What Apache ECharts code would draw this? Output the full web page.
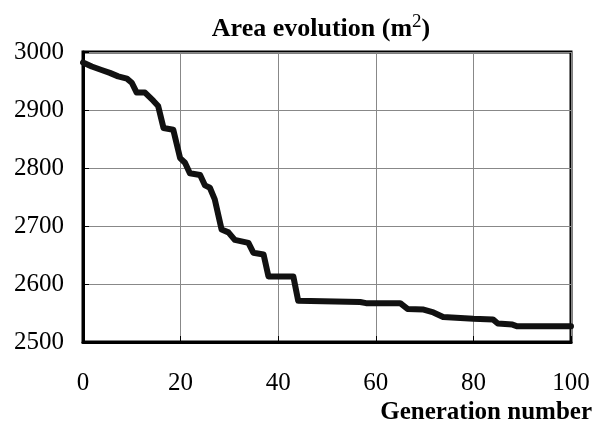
<!DOCTYPE html>
<html>
<head>
<meta charset="utf-8">
<script src="https://cdn.jsdelivr.net/npm/echarts@6/dist/echarts.min.js"></script>
<style>html,body{margin:0;padding:0;background:#fff;}#c{width:603px;height:426px;}</style>
</head>
<body>
<div id="c"></div>
<script>
var generations = [0, 1.8, 3.8, 5.5, 7.2, 9, 10, 11, 12.7, 14.4, 15.4, 16.5, 18.5, 19.9, 20.9, 21.9, 24, 25, 26, 27, 28.4, 29.8, 31.1, 33.9, 34.9, 37, 38, 43.1, 44.1, 56.8, 58, 65, 66.5, 69.8, 71.8, 73.8, 80, 84, 85, 88, 89, 100];
var areas = [2982, 2975, 2969, 2964, 2958, 2954, 2947, 2930, 2930, 2916, 2907, 2869, 2866, 2817, 2809, 2791, 2788, 2770, 2766, 2746, 2694, 2689, 2676, 2671, 2654, 2651, 2613, 2613, 2571, 2569, 2567, 2567, 2557, 2556, 2551, 2543, 2540, 2539, 2532, 2530, 2527, 2527];
var xTicks = [0, 20, 40, 60, 80, 100];
var yTicks = [2500, 2600, 2700, 2800, 2900, 3000];

var points = generations.map(function (g, i) { return [g, areas[i]]; });
var chart = echarts.init(document.getElementById('c'));
var font = '"Liberation Serif", "Times New Roman", serif';
chart.setOption({
  animation: false,
  backgroundColor: '#fff',
  title: {
    text: 'Area evolution (m{sup|2})',
    left: 316, top: 8, textAlign: 'center',
    textStyle: {
      fontFamily: font, fontWeight: 'bold', fontSize: 26, color: '#000',
      rich: { sup: { fontFamily: font, fontWeight: 'normal', fontSize: 19, verticalAlign: 'top', padding: [0, 0, 14, 0], color: '#000' } }
    }
  },
  grid: { left: 83, right: 32, top: 52, bottom: 84, show: true, borderColor: '#000', borderWidth: 3, containLabel: false },
  xAxis: {
    type: 'value', min: xTicks[0], max: xTicks[xTicks.length - 1], interval: 20,
    name: 'Generation number', nameLocation: 'end', nameGap: 21,
    nameTextStyle: { fontFamily: font, fontWeight: 'bold', fontSize: 25, color: '#000', align: 'right', verticalAlign: 'top', padding: [58, 0, 0, 0] },
    axisLine: { show: true, lineStyle: { color: '#000', width: 3 } },
    axisTick: { show: true, inside: true, length: 6, lineStyle: { color: '#000', width: 1 } },
    axisLabel: { fontFamily: font, fontSize: 25, color: '#000', margin: 29, formatter: function (v) { return String(v); } },
    splitLine: { show: true, lineStyle: { color: '#888', width: 1 } }
  },
  yAxis: {
    type: 'value', min: yTicks[0], max: yTicks[yTicks.length - 1], interval: 100,
    axisLine: { show: true, lineStyle: { color: '#000', width: 3 } },
    axisTick: { show: true, inside: true, length: 6, lineStyle: { color: '#000', width: 1 } },
    axisLabel: { fontFamily: font, fontSize: 25, color: '#000', margin: 19, formatter: function (v) { return String(v); } },
    splitLine: { show: true, lineStyle: { color: '#888', width: 1 } }
  },
  series: [{
    type: 'line', data: points, showSymbol: false, symbol: 'none',
    lineStyle: { color: '#111', width: 6, join: 'round', cap: 'round' }
  }]
});
</script>
</body>
</html>
